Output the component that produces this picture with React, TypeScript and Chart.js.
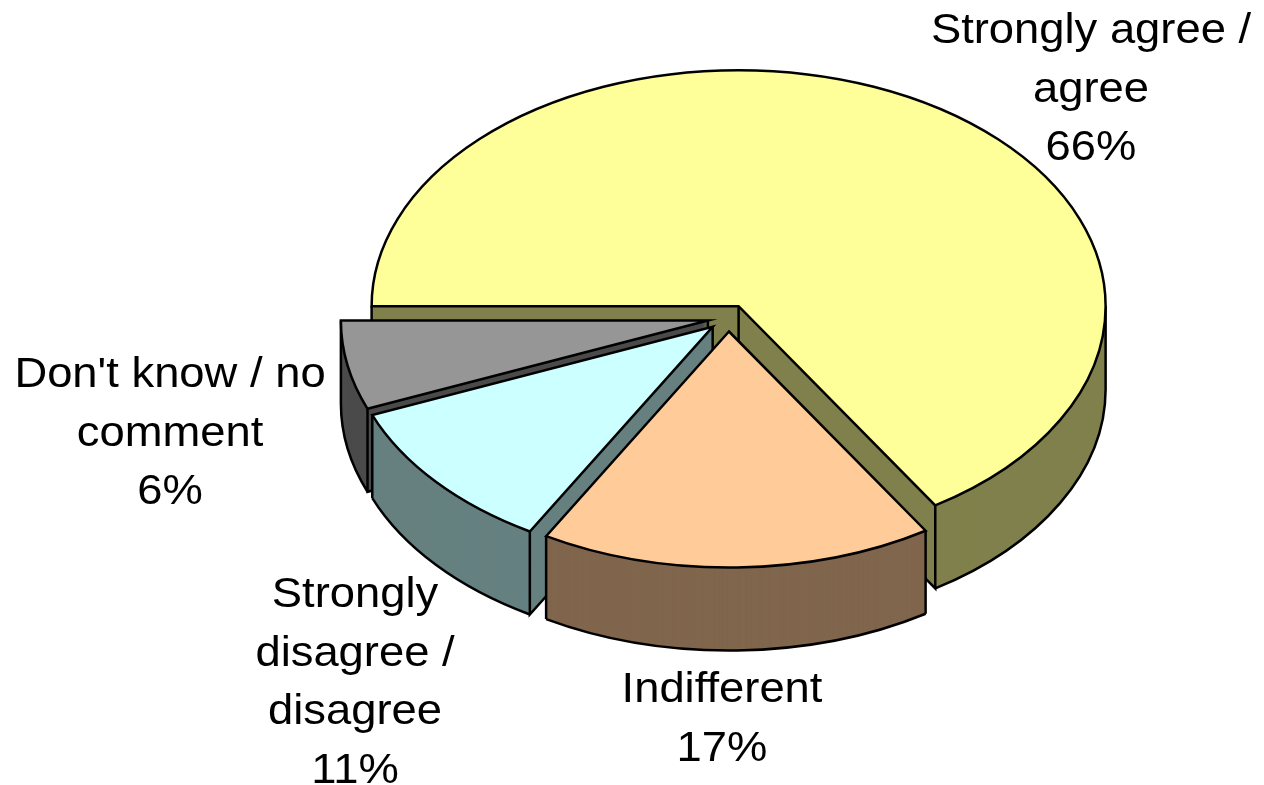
import React, { useEffect, useRef } from "react";
import { Chart, registerables } from "chart.js";

Chart.register(...registerables);

// ---- data ----
const categories = [
  "Strongly agree / agree",
  "Indifferent",
  "Strongly disagree / disagree",
  "Don't know / no comment",
];
const values = [66.0, 17.3, 10.6, 6.1];

// ---- style ----
const topColors = ["#FFFF99", "#FFCC99", "#CCFFFF", "#969696"];
const sideColors = ["#80804D", "#80664D", "#668080", "#4B4B4B"];

// ---- layout ----
const CANVAS_W = 1264;
const CANVAS_H = 785;
const RADIUS = 367;
const TILT = 0.643;
const DEPTH = 83;
const EXPLODE = 21;
const EDGE_W = 2.5;
const FONT_SIZE = 42;
const TEXT_STRETCH = 1.08;
const LINE_H = 58.5;
const labelAnchors = [
  [1091, 43],
  [722, 702],
  [355, 607],
  [170, 387],
];
const wrapWidths = [340, 340, 210, 340];
const sideOrder = [0, 3, 2, 1];

function centerOf(chart: any) {
  const { left, right, top, bottom } = chart.chartArea;
  return { cx: (left + right) / 2, cy: (top + bottom) / 2 };
}

function geom(el: any, cy: number) {
  return {
    x: el.x,
    y: cy + (el.y - cy) * TILT,
    rx: el.outerRadius,
    ry: el.outerRadius * TILT,
    a0: el.startAngle,
    a1: el.endAngle,
  };
}

function sectorPath(ctx: CanvasRenderingContext2D, g: any, dy: number) {
  ctx.beginPath();
  ctx.moveTo(g.x, g.y + dy);
  ctx.ellipse(g.x, g.y + dy, g.rx, g.ry, 0, g.a0, g.a1);
  ctx.closePath();
}

function rim(g: any, a: number) {
  return [g.x + g.rx * Math.cos(a), g.y + g.ry * Math.sin(a)];
}

function wrapText(ctx: CanvasRenderingContext2D, text: string, maxW: number) {
  const words = text.split(" ");
  const lines: string[] = [];
  let cur = "";
  for (const w of words) {
    const test = cur ? cur + " " + w : w;
    if (cur && ctx.measureText(test).width * TEXT_STRETCH > maxW) {
      lines.push(cur);
      cur = w;
    } else {
      cur = test;
    }
  }
  if (cur) lines.push(cur);
  return lines;
}

function drawSide(ctx: CanvasRenderingContext2D, g: any, color: string) {
  ctx.fillStyle = color;
  for (let t = DEPTH; t >= 0; t -= 1) {
    sectorPath(ctx, g, t);
    ctx.fill();
  }
  ctx.strokeStyle = "#000";
  ctx.lineWidth = EDGE_W;
  ctx.lineJoin = "miter";
  ctx.lineCap = "butt";
  ctx.beginPath();
  // front rim (outer wall)
  for (let k = -2; k <= 2; k++) {
    const lo = Math.max(g.a0, 2 * Math.PI * k);
    const hi = Math.min(g.a1, 2 * Math.PI * k + Math.PI);
    if (hi > lo) {
      const [x0, y0] = rim(g, lo);
      const [x1, y1] = rim(g, hi);
      ctx.moveTo(x0, y0 + DEPTH);
      ctx.ellipse(g.x, g.y + DEPTH, g.rx, g.ry, 0, lo, hi);
      ctx.moveTo(x0, y0);
      ctx.lineTo(x0, y0 + DEPTH);
      ctx.moveTo(x1, y1);
      ctx.lineTo(x1, y1 + DEPTH);
    }
  }
  // visible cut faces
  const faces: number[] = [];
  if (Math.cos(g.a0) < 0) faces.push(g.a0);
  if (Math.cos(g.a1) > 0) faces.push(g.a1);
  for (const a of faces) {
    const [px, py] = rim(g, a);
    ctx.moveTo(g.x, g.y);
    ctx.lineTo(g.x, g.y + DEPTH);
    ctx.lineTo(px, py + DEPTH);
    ctx.lineTo(px, py);
  }
  ctx.stroke();
}

const pie3d = {
  id: "pie3d",
  afterDatasetsUpdate(chart: any) {
    const { cx, cy } = centerOf(chart);
    const meta = chart.getDatasetMeta(0);
    meta.data.forEach((el: any) => {
      const mid = (el.startAngle + el.endAngle) / 2;
      el.x = cx + Math.cos(mid) * EXPLODE;
      el.y = cy + Math.sin(mid) * EXPLODE;
    });
  },
  beforeDatasetsDraw(chart: any) {
    const ctx: CanvasRenderingContext2D = chart.ctx;
    const { cy } = centerOf(chart);
    const meta = chart.getDatasetMeta(0);
    ctx.save();
    for (const i of sideOrder) {
      const el = meta.data[i];
      if (!el) continue;
      drawSide(ctx, geom(el, cy), sideColors[i]);
    }
    ctx.restore();
    ctx.save();
    ctx.translate(0, cy);
    ctx.scale(1, TILT);
    ctx.translate(0, -cy);
  },
  afterDatasetsDraw(chart: any) {
    const ctx: CanvasRenderingContext2D = chart.ctx;
    ctx.restore();
    const { cy } = centerOf(chart);
    const meta = chart.getDatasetMeta(0);
    ctx.save();
    ctx.strokeStyle = "#000";
    ctx.lineWidth = EDGE_W;
    ctx.lineJoin = "miter";
    meta.data.forEach((el: any) => {
      sectorPath(ctx, geom(el, cy), 0);
      ctx.stroke();
    });
    ctx.restore();

    // labels
    const total = values.reduce((s, v) => s + v, 0);
    ctx.save();
    ctx.fillStyle = "#000";
    ctx.font = `${FONT_SIZE}px "Liberation Sans", Arial, sans-serif`;
    ctx.textAlign = "center";
    ctx.textBaseline = "alphabetic";
    categories.forEach((cat, i) => {
      const lines = wrapText(ctx, cat, wrapWidths[i]);
      lines.push(Math.round((values[i] / total) * 100) + "%");
      const [ax, ay] = labelAnchors[i];
      lines.forEach((line, j) => {
        ctx.save();
        ctx.translate(ax, ay + j * LINE_H);
        ctx.scale(TEXT_STRETCH, 1);
        ctx.fillText(line, 0, 0);
        ctx.restore();
      });
    });
    ctx.restore();
  },
};

export default function App() {
  const canvasRef = useRef<HTMLCanvasElement | null>(null);

  useEffect(() => {
    const canvas = canvasRef.current;
    if (!canvas) return;
    const chart = new Chart(canvas, {
      type: "pie",
      data: {
        labels: categories,
        datasets: [
          {
            data: values,
            backgroundColor: topColors,
            borderColor: "#000",
            borderWidth: 0,
            clip: false,
          } as any,
        ],
      },
      options: {
        responsive: false,
        animation: false,
        devicePixelRatio: 1,
        events: [],
        rotation: -90,
        radius: RADIUS,
        layout: { padding: { left: 193, right: 0, top: 0, bottom: 149 } },
        plugins: {
          legend: { display: false },
          tooltip: { enabled: false },
        },
      } as any,
      plugins: [pie3d as any],
    });
    return () => chart.destroy();
  }, []);

  return (
    <div style={{ position: "absolute", left: 0, top: 0, width: CANVAS_W, height: CANVAS_H, background: "#fff" }}>
      <canvas ref={canvasRef} width={CANVAS_W} height={CANVAS_H} style={{ display: "block" }} />
    </div>
  );
}
